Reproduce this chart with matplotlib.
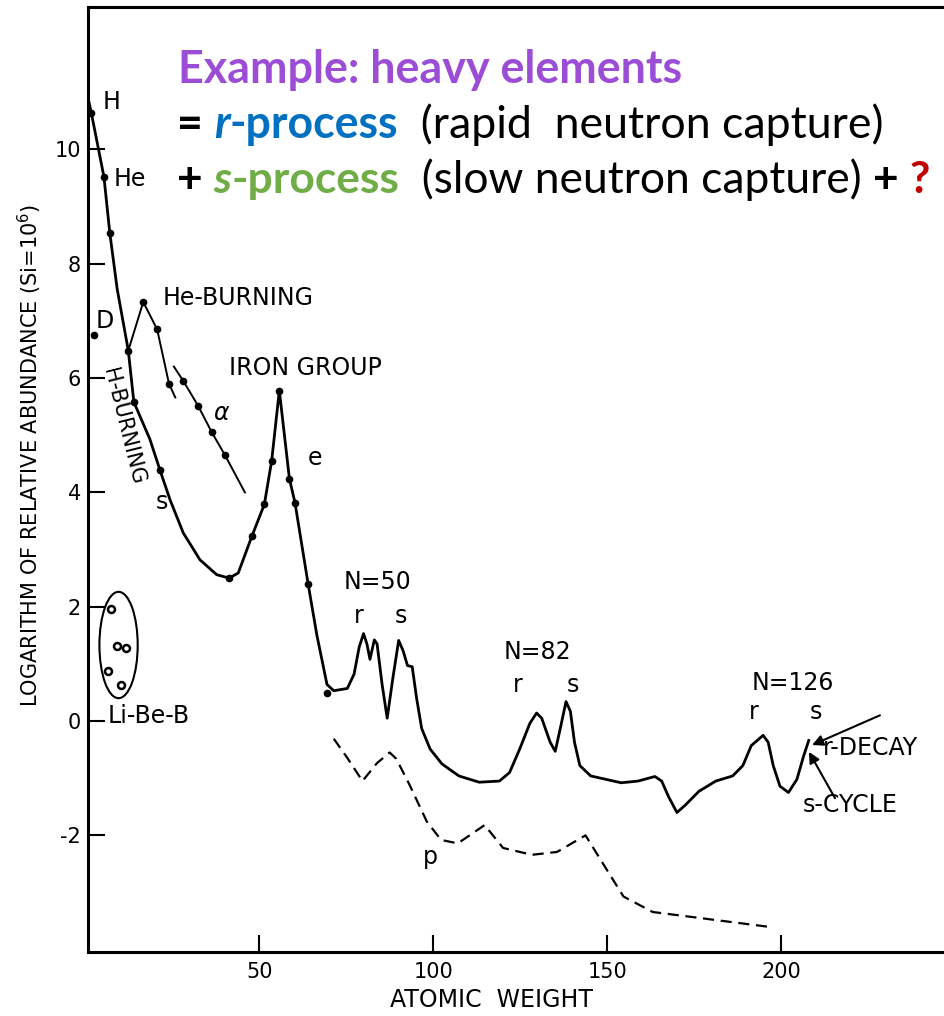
import matplotlib
matplotlib.use("Agg")
import matplotlib.pyplot as plt
from matplotlib.patches import Ellipse

# ---------------- data ----------------
main_x = [0.8, 1.7, 5.3, 7.0, 9.1, 12.3, 13.9, 18.5, 21.4, 24.3, 28.1, 32.9, 37.7, 41.3,
          43.9, 47.8, 51.4, 53.5, 55.7, 58.6, 60.2, 64.0, 66.5, 69.4, 71.35, 75.24, 77.18,
          78.64, 79.90, 80.87, 81.75, 83.01, 83.79, 85.24, 86.70, 88.35, 90.00, 91.27,
          92.53, 93.89, 95.15, 96.61, 99.04, 102.44, 107.30, 113.13, 118.95, 121.87,
          124.78, 127.70, 129.64, 131.10, 133.53, 134.99, 136.44, 138.09, 139.35, 140.52,
          142.07, 145.18, 153.93, 158.79, 163.64, 165.58, 167.53, 169.96, 172.38, 176.27,
          181.13, 185.99, 188.90, 191.33, 194.73, 196.18, 197.64, 199.58, 202.01, 204.44,
          206.38, 207.84]
main_y = [10.88, 10.63, 9.52, 8.53, 7.56, 6.48, 5.58, 4.93, 4.39, 3.87, 3.29, 2.82, 2.56, 2.50,
          2.59, 3.23, 3.79, 4.55, 5.78, 4.24, 3.82, 2.39, 1.5, 0.64, 0.53, 0.57, 0.82,
          1.29, 1.53, 1.35, 1.08, 1.42, 1.35, 0.64, 0.05, 0.76, 1.41, 1.23,
          0.97, 0.95, 0.40, -0.13, -0.49, -0.75, -0.96, -1.07, -1.05, -0.90,
          -0.49, -0.04, 0.14, 0.05, -0.37, -0.53, -0.13, 0.34, 0.17, -0.37,
          -0.78, -0.96, -1.08, -1.05, -0.97, -1.05, -1.32, -1.60, -1.47, -1.23,
          -1.05, -0.96, -0.78, -0.43, -0.25, -0.37, -0.78, -1.14, -1.25, -1.02,
          -0.61, -0.34]

main_dot_x = [1.7, 5.3, 7.0, 12.3, 13.9, 21.4, 41.3, 47.8, 51.4, 53.5, 55.7, 58.6, 60.2, 64.0, 69.4]
main_dot_y = [10.63, 9.52, 8.53, 6.48, 5.58, 4.39, 2.50, 3.23, 3.79, 4.55, 5.78, 4.24, 3.82, 2.39, 0.49]

heburn_x = [12.3, 16.6, 20.6, 24.0, 25.8]
heburn_y = [6.48, 7.33, 6.85, 5.9, 5.66]
heburn_dot_x = [16.6, 20.6, 24.0]
heburn_dot_y = [7.33, 6.85, 5.9]

alpha_x = [25.4, 28.1, 32.4, 36.3, 40.1, 45.8]
alpha_y = [6.2, 5.95, 5.51, 5.05, 4.65, 4.0]
alpha_dot_x = [28.1, 32.4, 36.3, 40.1]
alpha_dot_y = [5.95, 5.51, 5.05, 4.65]

d_x = [2.5]
d_y = [6.75]

libeb_x = [7.3, 9.1, 11.6, 6.4, 10.2]
libeb_y = [1.96, 1.32, 1.27, 0.88, 0.63]

p_x = [71.35, 75.3, 79.6, 83.7, 87.4, 89.3, 93.0, 98.1, 102.2, 107.0, 114.7, 120.0, 128.3,
       135.5, 143.7, 149.9, 154.6, 163.0, 181.0, 196.4]
p_y = [-0.31, -0.65, -1.05, -0.74, -0.55, -0.66, -1.1, -1.76, -2.08, -2.14, -1.82, -2.22, -2.34,
       -2.29, -2.0, -2.61, -3.07, -3.34, -3.48, -3.6]

xticks = [50, 100, 150, 200]
xtick_labels = ["50", "100", "150", "200"]
yticks = [-2, 0, 2, 4, 6, 8, 10]
ytick_labels = ["-2", "0", "2", "4", "6", "8", "10"]

W, H = 945, 1016
fig = plt.figure(figsize=(W / 100, H / 100), dpi=100)
ax = fig.add_axes([88 / W, (H - 952) / H, (W - 88) / W, (952 - 7) / H])
ax.set_xlim(0.72, 247)
ax.set_ylim(-4.04, 12.49)

for s in ["left", "top", "bottom"]:
    ax.spines[s].set_linewidth(2.2)
ax.spines["right"].set_visible(False)

ax.set_xticks(xticks)
ax.set_xticklabels(xtick_labels)
ax.set_yticks(yticks)
ax.set_yticklabels(ytick_labels)
ax.tick_params(direction="in", length=12, width=1.5, labelsize=15)
ax.tick_params(axis="x", pad=7)
ax.tick_params(axis="y", pad=5)

# curves
ax.plot(main_x, main_y, color="black", lw=2.0, solid_joinstyle="round")
ax.plot(main_dot_x, main_dot_y, "o", color="black", ms=4.5)
ax.plot(heburn_x, heburn_y, color="black", lw=1.4)
ax.plot(heburn_dot_x, heburn_dot_y, "o", color="black", ms=4.5)
ax.plot(alpha_x, alpha_y, color="black", lw=1.4)
ax.plot(alpha_dot_x, alpha_dot_y, "o", color="black", ms=4.5)
ax.plot(d_x, d_y, "o", color="black", ms=4.5)
ax.plot(libeb_x, libeb_y, "o", mfc="white", mec="black", mew=1.8, ms=5)
ax.plot(p_x, p_y, color="black", lw=1.6, linestyle=(0, (5, 3)))

ax.add_patch(Ellipse((9.5, 1.33), width=11, height=1.86, fill=False, lw=1.5, color="black"))

fs = 17
txt = dict(color="black", fontsize=fs, family="DejaVu Sans")
ax.text(7.6, 10.82, "H", ha="center", va="center", **txt)
ax.text(12.6, 9.49, "He", ha="center", va="center", **txt)
ax.text(5.6, 7.0, "D", ha="center", va="center", **txt)
ax.text(22.3, 7.4, "He-BURNING", ha="left", va="center", **txt)
ax.text(10.8, 5.15, "H-BURNING", ha="center", va="center", rotation=-76,
        rotation_mode="anchor", color="black", fontsize=15)
ax.text(63.1, 6.17, "IRON GROUP", ha="center", va="center", **txt)
ax.text(39.1, 5.38, "α", ha="center", va="center", color="black", fontsize=17, style="italic")
ax.text(66.0, 4.6, "e", ha="center", va="center", **txt)
ax.text(22.0, 3.83, "s", ha="center", va="center", **txt)
ax.text(84.0, 2.43, "N=50", ha="center", va="center", **txt)
ax.text(78.6, 1.84, "r", ha="center", va="center", **txt)
ax.text(90.7, 1.84, "s", ha="center", va="center", **txt)
ax.text(130.0, 1.21, "N=82", ha="center", va="center", **txt)
ax.text(124.3, 0.63, "r", ha="center", va="center", **txt)
ax.text(140.1, 0.63, "s", ha="center", va="center", **txt)
ax.text(203.3, 0.67, "N=126", ha="center", va="center", **txt)
ax.text(192.1, 0.16, "r", ha="center", va="center", **txt)
ax.text(209.9, 0.16, "s", ha="center", va="center", **txt)
ax.text(212.0, -0.47, "r-DECAY", ha="left", va="center", **txt)
ax.text(206.2, -1.47, "s-CYCLE", ha="left", va="center", **txt)
ax.text(99.0, -2.37, "p", ha="center", va="center", **txt)
ax.text(6.3, 0.09, "Li-Be-B", ha="left", va="center", **txt)

arrow = dict(arrowstyle="-|>", lw=1.5, color="black", mutation_scale=16, shrinkA=0, shrinkB=0)
ax.annotate("", xy=(208.8, -0.42), xytext=(228.3, 0.1), arrowprops=arrow)
ax.annotate("", xy=(207.9, -0.54), xytext=(215.4, -1.35), arrowprops=arrow)

fig.text(30 / W, 1 - 455 / H, "LOGARITHM OF RELATIVE ABUNDANCE (Si=10$^6$)",
         rotation=90, ha="center", va="center", fontsize=15)
fig.text(492 / W, 1 - 1000 / H, "ATOMIC  WEIGHT", ha="center", va="center", fontsize=17)

# ---------------- header ----------------
renderer = fig.canvas.get_renderer()
PURPLE, BLUE, GREEN, RED = "#9B4DD6", "#0070C0", "#70AD47", "#C00000"
HF = "Lato"


def seg_widths(segs, size):
    out = []
    for t, kw in segs:
        a = fig.text(0, 0, t + "|", fontsize=size, family=HF, **kw)
        b = fig.text(0, 0, "|", fontsize=size, family=HF, **kw)
        out.append(a.get_window_extent(renderer).width - b.get_window_extent(renderer).width)
        a.remove()
        b.remove()
    return out


def header_line(segs, x0, x1, base):
    size = 28.0
    total = sum(seg_widths(segs, size))
    size = size * (x1 - x0) / total
    ws = seg_widths(segs, size)
    x = x0
    for (t, kw), w in zip(segs, ws):
        fig.text(x / W, 1 - base / H, t, fontsize=size, family=HF, ha="left", va="baseline", **kw)
        x += w


header_line([("Example: heavy elements", dict(color=PURPLE, weight="bold"))], 178, 683, 83)
header_line([("= ", dict(color="black", weight="bold")),
             ("r", dict(color=BLUE, weight="bold", style="italic")),
             ("-process", dict(color=BLUE, weight="bold")),
             ("  (rapid  neutron capture)", dict(color="black"))], 177, 883, 138)
header_line([("+ ", dict(color="black", weight="bold")),
             ("s", dict(color=GREEN, weight="bold", style="italic")),
             ("-process", dict(color=GREEN, weight="bold")),
             ("  (slow neutron capture) ", dict(color="black")),
             ("+ ", dict(color="black", weight="bold")),
             ("?", dict(color=RED, weight="bold"))], 177, 930, 193)

fig.savefig("out.png", dpi=100)
